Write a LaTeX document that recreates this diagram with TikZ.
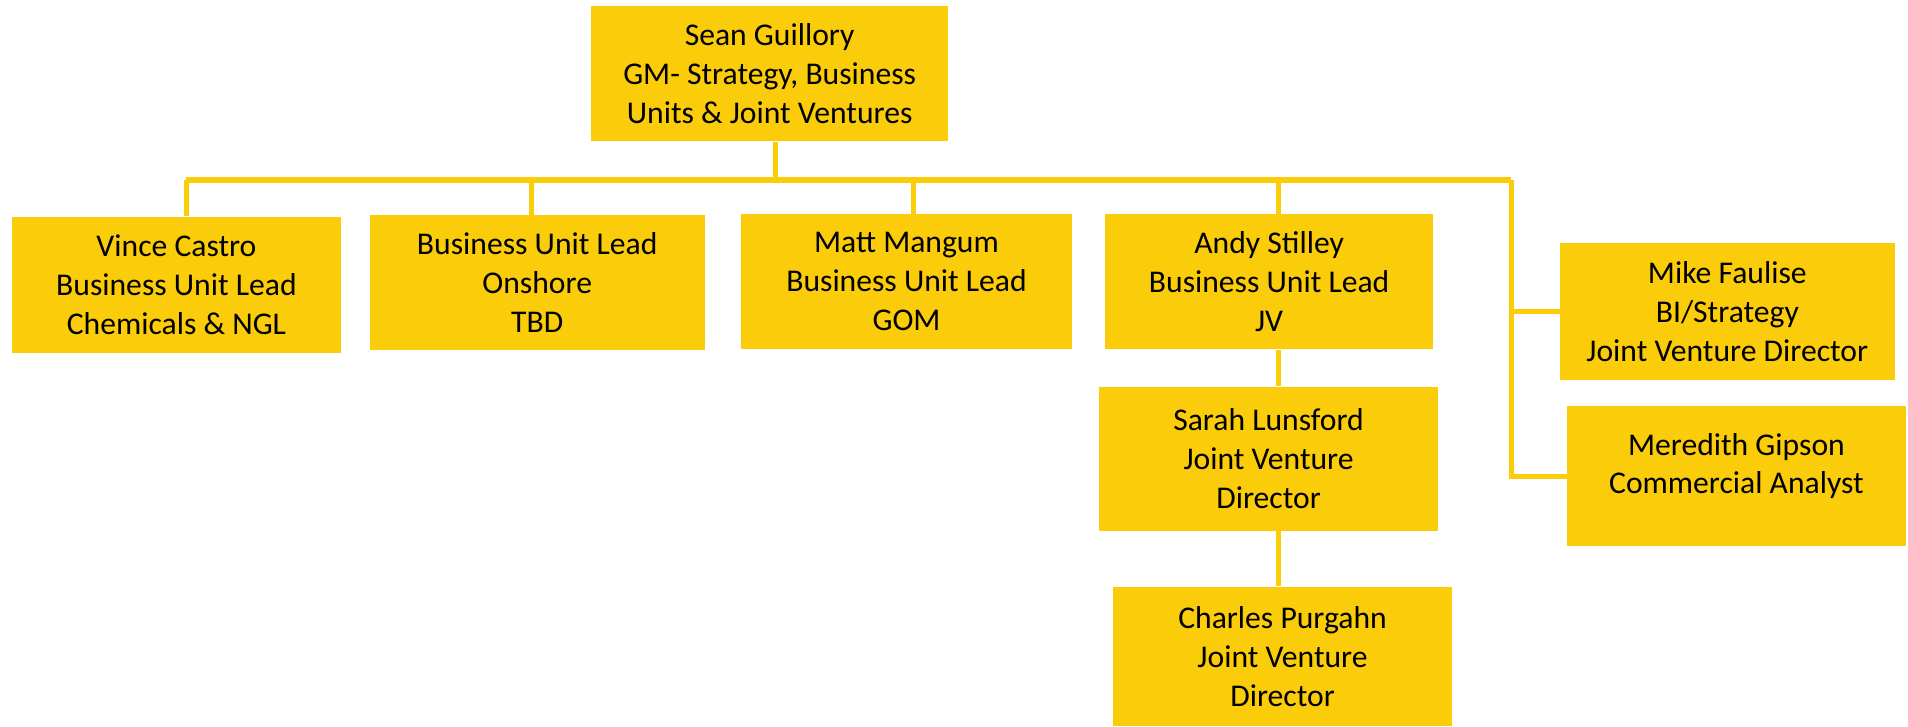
\documentclass[tikz,border=0pt]{standalone}
\usepackage{fontspec}
\setmainfont{Carlito}
\definecolor{gold}{RGB}{250,204,9}
\begin{document}
\begin{tikzpicture}[x=0.5pt,y=-0.5pt,
  box/.style={fill=gold,draw=none,inner sep=0pt,align=center,
    font=\fontsize{13}{16}\selectfont},
  txt/.style={inner sep=0pt,align=center,font=\fontsize{13}{16}\selectfont},
  wire/.style={draw=gold,line width=2pt},
  bus/.style={draw=gold,line width=2.5pt}]
\useasboundingbox (0,0) rectangle (1568,597);
\node[box,minimum width=146.5pt,minimum height=55.5pt] (sean) at (632.5,60.5)
  {Sean Guillory\\GM- Strategy, Business\\Units \& Joint Ventures};
\node[box,minimum width=135pt,minimum height=56pt] (vince) at (145,234)
  {Vince Castro\\Business Unit Lead\\Chemicals \& NGL};
\node[box,minimum width=137.5pt,minimum height=55.5pt] (onshore) at (441.5,232.5)
  {Business Unit Lead\\Onshore\\TBD};
\node[box,minimum width=136pt,minimum height=55.5pt] (matt) at (745,231.5)
  {Matt Mangum\\Business Unit Lead\\GOM};
\node[box,minimum width=135pt,minimum height=55.5pt] (andy) at (1043,231.5)
  {Andy Stilley\\Business Unit Lead\\JV};
\node[box,minimum width=137.5pt,minimum height=56pt] (mike) at (1419.5,256)
  {Mike Faulise\\BI/Strategy\\Joint Venture Director};
\node[box,minimum width=139pt,minimum height=57.5pt] (mer) at (1427,391.5) {};
\node[txt] (mertext) at (1427,383) {Meredith Gipson\\Commercial Analyst};
\node[box,minimum width=139.5pt,minimum height=59pt] (sarah) at (1042.5,377)
  {Sarah Lunsford\\Joint Venture\\Director};
\node[box,minimum width=139pt,minimum height=57.5pt] (charles) at (1054,539.5)
  {Charles Purgahn\\Joint Venture\\Director};
\coordinate (b1) at (153,148);
\coordinate (b2) at (437,148);
\coordinate (b3) at (637,148);
\coordinate (b4) at (751,148);
\coordinate (b5) at (1051,148);
\coordinate (b6) at (1242,148);
\draw[bus] (b1) -- (b6);
\draw[wire] (sean.south -| b3) -- (b3);
\draw[wire] (b1) -- (vince.north -| b1);
\draw[wire] (b2) -- (onshore.north -| b2);
\draw[wire] (b4) -- (matt.north -| b4);
\draw[wire] (b5) -- (andy.north -| b5);
\draw[wire] (andy.south -| b5) -- (sarah.north -| b5);
\draw[wire] (sarah.south -| b5) -- (charles.north -| b5);
\draw[wire] (b6) -- (b6 |- mer.west) -- (mer.west);
\draw[wire] (b6 |- mike.west) -- (mike.west);
\end{tikzpicture}
\end{document}
